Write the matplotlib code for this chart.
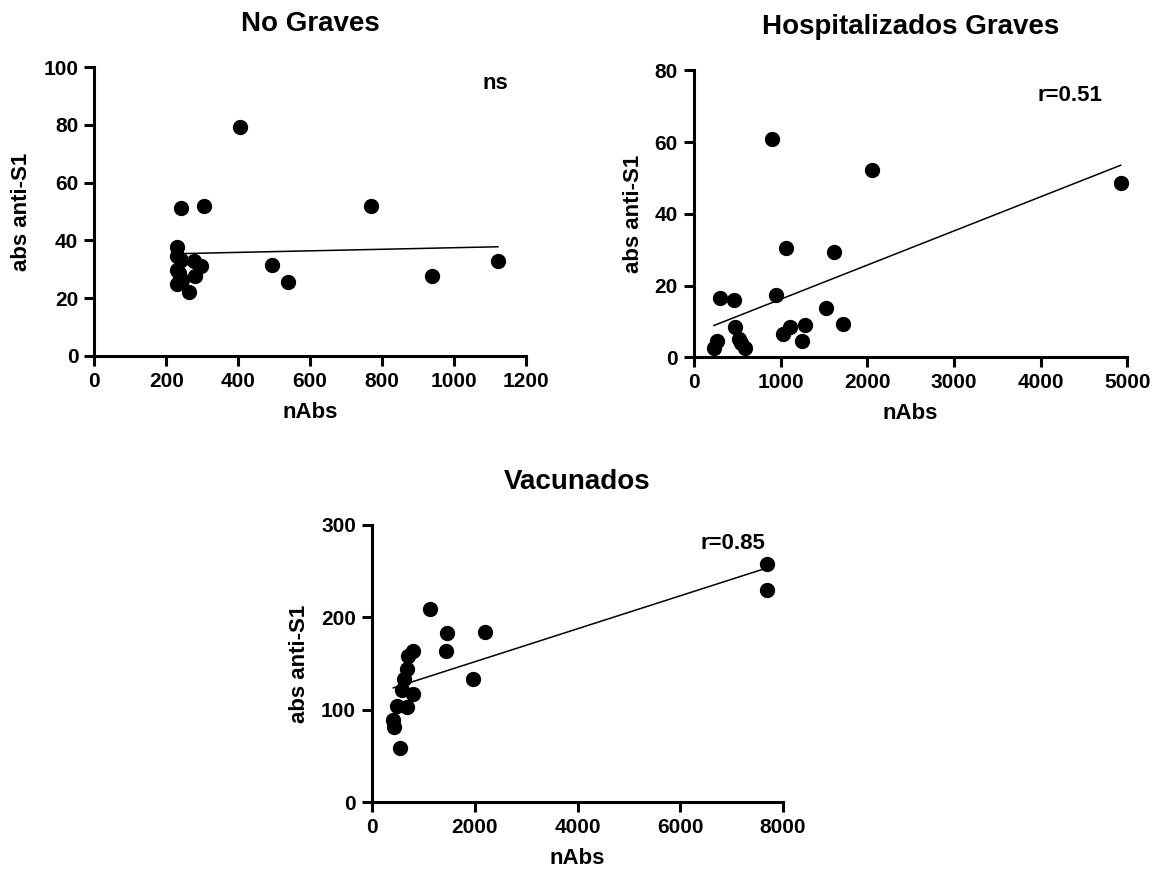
import numpy as np
import matplotlib.pyplot as plt

plt.rcParams['font.family'] = ['Liberation Sans', 'DejaVu Sans']
plt.rcParams['font.weight'] = 'bold'

# No Graves
ng_x = [241, 306, 231, 231, 240, 278, 297, 231, 243, 231, 281, 264, 493, 539, 405, 769, 938, 1122, 236]
ng_y = [51.3, 51.8, 37.6, 34.7, 33.3, 32.7, 31.2, 29.6, 26.4, 24.9, 27.8, 22.0, 31.4, 25.7, 79.2, 51.8, 27.8, 32.8, 28.5]

# Hospitalizados Graves
hg_x = [903, 2054, 1062, 1612, 946, 304, 461, 1523, 469, 1716, 1285, 1108, 1023, 1246, 261, 231, 523, 588, 545, 4923]
hg_y = [60.8, 52.1, 30.6, 29.3, 17.4, 16.6, 15.9, 13.8, 8.4, 9.3, 9.1, 8.45, 6.6, 4.5, 4.6, 2.5, 5.1, 2.7, 4.0, 48.5]

# Vacunados
va_x = [1128, 1453, 2204, 1440, 803, 706, 675, 623, 1971, 578, 792, 492, 687, 414, 428, 545, 7680, 7680]
va_y = [208.8, 182.8, 184.5, 163.6, 163.6, 158.2, 143.8, 132.9, 132.9, 121.3, 116.7, 104.0, 103.3, 88.8, 81.6, 58.8, 257.5, 229.7]

fig = plt.figure(figsize=(11.63, 8.75), dpi=100)

panels = [
    # rect, title, x, y, xlim, xticks, ylim, yticks, note, note pos
    ([0.0811, 0.5935, 0.3712, 0.3296], 'No Graves', ng_x, ng_y,
     1200, np.arange(0, 1201, 200), 100, np.arange(0, 101, 20), 'ns', (1115, 94.5)),
    ([0.5967, 0.5917, 0.3726, 0.3278], 'Hospitalizados Graves', hg_x, hg_y,
     5000, np.arange(0, 5001, 1000), 80, np.arange(0, 81, 20), 'r=0.51', (4338, 73)),
    ([0.3199, 0.0834, 0.3534, 0.3166], 'Vacunados', va_x, va_y,
     8000, np.arange(0, 8001, 2000), 300, np.arange(0, 301, 100), 'r=0.85', (7023, 280)),
]

for rect, title, xs, ys, xmax, xticks, ymax, yticks, note, pos in panels:
    ax = fig.add_axes(rect)
    xs = np.array(xs, dtype=float)
    ys = np.array(ys, dtype=float)

    ax.plot(xs, ys, 'o', color='black', markersize=10, clip_on=False, zorder=3)

    # linear regression over the data range
    slope, icpt = np.polyfit(xs, ys, 1)
    xl = np.array([xs.min(), xs.max()])
    ax.plot(xl, slope * xl + icpt, color='black', linewidth=1.1, zorder=2)

    ax.set_xlim(0, xmax)
    ax.set_ylim(0, ymax)
    ax.set_xticks(xticks)
    ax.set_yticks(yticks)

    for s in ['top', 'right']:
        ax.spines[s].set_visible(False)
    for s in ['left', 'bottom']:
        ax.spines[s].set_linewidth(2.2)
    ax.tick_params(width=2.2, length=7.5, labelsize=15, pad=4)
    for lab in ax.get_xticklabels() + ax.get_yticklabels():
        lab.set_fontweight('bold')

    ax.set_xlabel('nAbs', fontsize=16, fontweight='bold', labelpad=8)
    ax.set_ylabel('abs anti-S1', fontsize=16, fontweight='bold', labelpad=8)
    ax.set_title(title, fontsize=20, fontweight='bold', pad=26)
    ax.text(pos[0], pos[1], note, fontsize=16, fontweight='bold',
            ha='center', va='center')

fig.savefig('out.png', dpi=100)
